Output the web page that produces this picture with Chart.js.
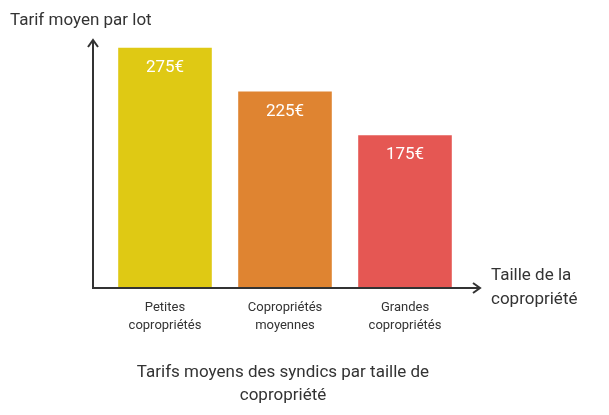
<!DOCTYPE html>
<html>
<head>
<meta charset="utf-8">
<script src="https://cdn.jsdelivr.net/npm/chart.js@4"></script>
<style>body{margin:0;background:#fff}canvas{display:block}</style>
</head>
<body>
<canvas id="c" width="609" height="415"></canvas>
<script>
const categories = [["Petites", "copropriétés"], ["Copropriétés", "moyennes"], ["Grandes", "copropriétés"]];
const tarifs = [275, 225, 175];
const colors = ['#DFC914', '#DF8431', '#E55753'];
const FONT = 'Roboto, "Open Sans", sans-serif';

// axes, labels and titles drawn by hand
const decor = {
  id: 'decor',
  afterDatasetsDraw(chart) {
    const ctx = chart.ctx;
    const x = chart.scales.x, y = chart.scales.y;
    const ox = 93, oy = y.getPixelForValue(0);
    ctx.save();
    ctx.strokeStyle = '#333'; ctx.lineWidth = 2;
    ctx.beginPath();
    ctx.moveTo(ox, 40); ctx.lineTo(ox, oy); ctx.lineTo(480, oy);
    ctx.moveTo(ox - 5, 47); ctx.lineTo(ox, 40); ctx.lineTo(ox + 5, 47);
    ctx.moveTo(473, oy - 5); ctx.lineTo(480, oy); ctx.lineTo(473, oy + 5);
    ctx.stroke();

    ctx.textAlign = 'center'; ctx.textBaseline = 'middle';
    const meta = chart.getDatasetMeta(0);
    ctx.font = '17px ' + FONT; ctx.fillStyle = '#fff';
    meta.data.forEach((bar, i) => ctx.fillText(tarifs[i] + '€', bar.x, bar.y + 20));

    ctx.font = '13px ' + FONT; ctx.fillStyle = '#333';
    categories.forEach((lines, i) => {
      const cx = x.getPixelForValue(i);
      lines.forEach((l, j) => ctx.fillText(l, cx, 308 + j * 18));
    });

    ctx.font = '17px ' + FONT;
    ctx.textAlign = 'left';
    ctx.fillText('Tarif moyen par lot', 10, 21);
    ctx.fillText('Taille de la', 491, 276);
    ctx.fillText('copropriété', 491, 300);
    ctx.textAlign = 'center';
    ctx.fillText('Tarifs moyens des syndics par taille de', 283, 373);
    ctx.fillText('copropriété', 283, 396);
    ctx.restore();
  }
};

new Chart(document.getElementById('c'), {
  type: 'bar',
  data: {
    labels: categories.map(c => c.join(' ')),
    datasets: [{ data: tarifs, backgroundColor: colors, barPercentage: 0.78, categoryPercentage: 1 }]
  },
  options: {
    responsive: false,
    animation: false,
    layout: { padding: { left: 105, right: 144, top: 40, bottom: 127 } },
    plugins: { legend: { display: false }, tooltip: { enabled: false } },
    scales: {
      x: { display: false },
      y: { display: false, min: 0, max: 284 }
    }
  },
  plugins: [decor]
});
</script>
</body>
</html>
